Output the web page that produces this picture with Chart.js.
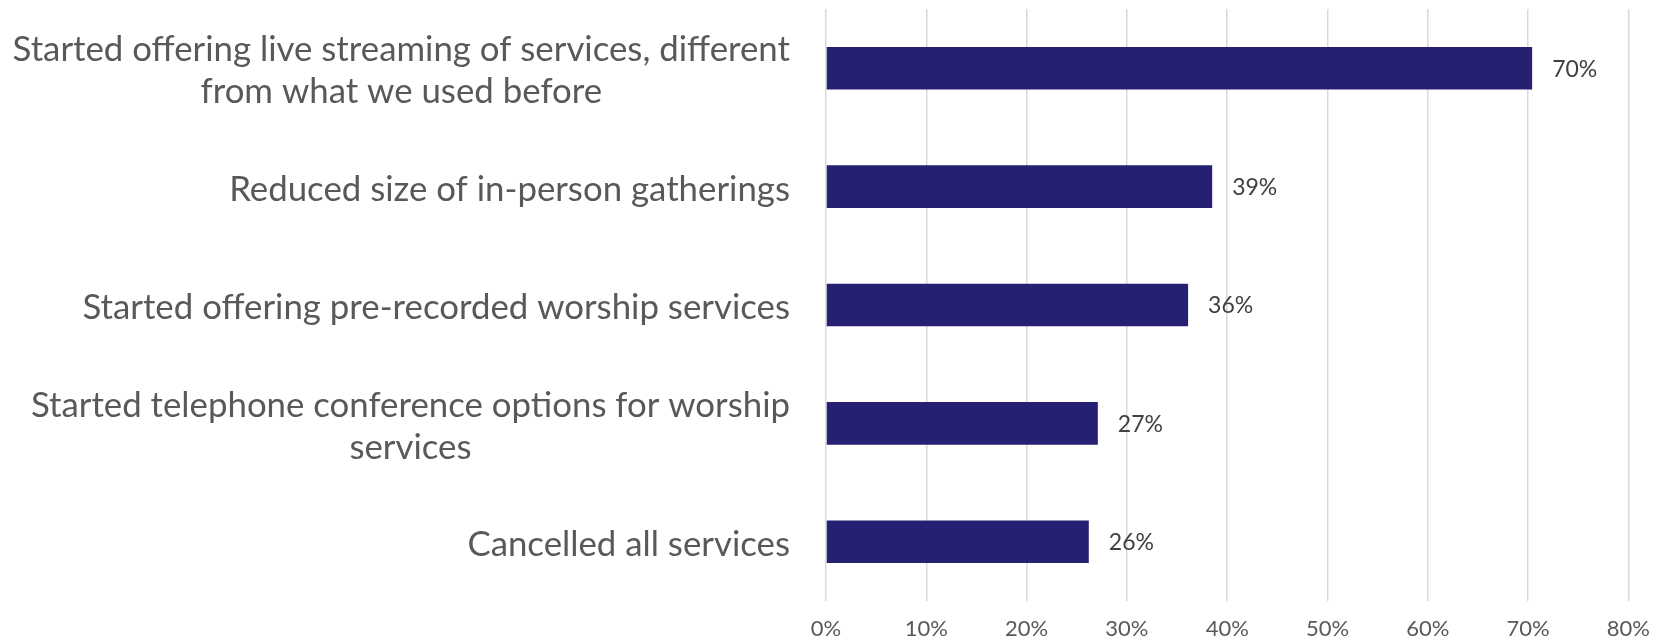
<!DOCTYPE html>
<html>
<head>
<meta charset="utf-8">
<script src="https://cdn.jsdelivr.net/npm/chart.js@4/dist/chart.umd.min.js"></script>
<style>
  html, body { margin: 0; padding: 0; background: #fff; }
  #wrap { width: 1665px; height: 644px; }
</style>
</head>
<body>
<div id="wrap"><canvas id="chart"></canvas></div>
<script>
  // ── Data ──
  const categories = [
    ['Started offering live streaming of services, different', 'from what we used before'],
    ['Reduced size of in-person gatherings'],
    ['Started offering pre-recorded worship services'],
    ['Started telephone conference options for worship', 'services'],
    ['Cancelled all services'],
  ];
  const shares = [70.4, 38.5, 36.1, 27.1, 26.2];
  const xTicks = [0, 10, 20, 30, 40, 50, 60, 70, 80];

  const BAR_COLOR = '#262073';
  const GRID_COLOR = '#d9d9d9';
  const LABEL_FONT = "Lato, 'Open Sans', sans-serif";

  // ── Category labels: right-aligned block, lines centred inside it ──
  const categoryLabels = {
    id: 'categoryLabels',
    afterDraw(chart) {
      const { ctx } = chart;
      const y = chart.scales.y;
      const right = 790;
      const lineH = 42;
      ctx.save();
      ctx.font = `34.8px ${LABEL_FONT}`;
      ctx.fillStyle = '#595959';
      ctx.textBaseline = 'middle';
      ctx.textAlign = 'center';
      categories.forEach((lines, i) => {
        const cy = y.getPixelForTick(i) + 3;
        const w = Math.max(...lines.map(l => ctx.measureText(l).width));
        const cx = right - w / 2;
        const y0 = cy - (lines.length - 1) * lineH / 2;
        lines.forEach((l, j) => ctx.fillText(l, cx, y0 + j * lineH));
      });
      ctx.restore();
    },
  };

  // ── Value labels to the right of each bar ──
  const valueLabels = {
    id: 'valueLabels',
    afterDatasetsDraw(chart) {
      const { ctx } = chart;
      const meta = chart.getDatasetMeta(0);
      ctx.save();
      ctx.font = `23px ${LABEL_FONT}`;
      ctx.fillStyle = '#404040';
      ctx.textBaseline = 'middle';
      ctx.textAlign = 'left';
      meta.data.forEach((bar, i) => {
        ctx.fillText(Math.round(shares[i]) + '%', bar.x + 20, bar.y + 1);
      });
      ctx.restore();
    },
  };

  new Chart(document.getElementById('chart').getContext('2d'), {
    type: 'bar',
    data: {
      labels: categories,
      datasets: [{
        data: shares,
        backgroundColor: BAR_COLOR,
        borderWidth: 0,
        categoryPercentage: 1,
        barPercentage: 0.36,
      }],
    },
    options: {
      indexAxis: 'y',
      responsive: true,
      maintainAspectRatio: false,
      animation: false,
      layout: { padding: { top: 9, right: 27, left: 0, bottom: 0 } },
      plugins: { legend: { display: false }, tooltip: { enabled: false } },
      scales: {
        x: {
          min: 0,
          max: 80,
          afterBuildTicks: s => { s.ticks = xTicks.map(v => ({ value: v })); },
          afterFit: s => { s.height = 43; },
          border: { display: false },
          grid: { color: GRID_COLOR, lineWidth: 1.5, drawTicks: false },
          ticks: {
            padding: 15,
            color: '#595959',
            font: { family: LABEL_FONT, size: 22 },
            callback: v => v + '%',
          },
        },
        y: {
          afterFit: s => { s.width = 826; },
          border: { display: false },
          grid: { display: false },
          ticks: { display: false },
        },
      },
    },
    plugins: [categoryLabels, valueLabels],
  });
</script>
</body>
</html>
